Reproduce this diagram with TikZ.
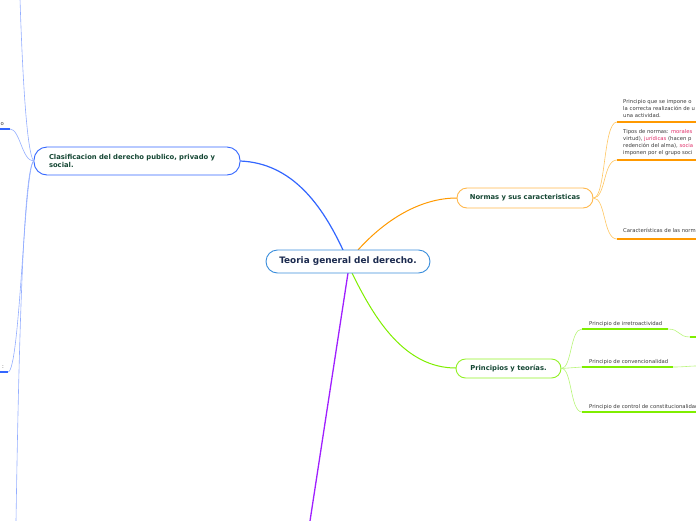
\documentclass[tikz,border=0pt]{standalone}
\usepackage{fontspec}
\setmainfont{DejaVu Sans}
\definecolor{cblue}{HTML}{3366FF}
\definecolor{lblue}{HTML}{94AEFF}
\definecolor{corange}{HTML}{FF9900}
\definecolor{lorange}{HTML}{FFC661}
\definecolor{cgreen}{HTML}{7FEE00}
\definecolor{lgreen}{HTML}{B8F57A}
\definecolor{cpurple}{HTML}{9F1FFF}
\definecolor{cframe}{HTML}{3C8FDC}
\definecolor{navy}{HTML}{1C2B4F}
\definecolor{dgreen}{HTML}{154734}
\definecolor{tgray}{HTML}{3A3A3A}
\definecolor{tred}{HTML}{E0306A}
\tikzset{
  topic/.style={draw, line width=0.9pt, fill=white, font=\bfseries\fontsize{6.8}{7.6}\selectfont, text=dgreen, inner sep=0pt},
  small/.style={font=\fontsize{5.3}{7}\selectfont, text=tgray, inner sep=0pt, align=left},
  thin/.style={line width=0.6pt},
  uline/.style={line width=1.6pt},
}
\begin{document}
\begin{tikzpicture}[x=1pt,y=-1pt]
\useasboundingbox (0,0) rectangle (696,520);
\clip (0,0) rectangle (696,520);

% ---- connector coordinates
\coordinate (cN1) at (343,250);
\coordinate (cN2) at (358,250);
\coordinate (cS1) at (352,273);
\coordinate (cS2) at (348,273);
\coordinate (pEnd) at (310,521);

% main connectors
\draw[cblue, line width=1.2pt] (cN1) .. controls (322,205) and (292,163) .. (240,161);
\draw[corange, line width=1pt] (cN2) .. controls (385,220) and (420,198) .. (457,198);
\draw[cgreen, line width=1pt] (cS1) .. controls (375,320) and (405,368) .. (456,368);
\draw[cpurple, line width=1.3pt] (cS2) -- (pEnd);

% ---- nodes
\node[draw=cframe, line width=0.9pt, fill=white, rounded corners=11.5pt, minimum width=164pt, minimum height=23pt,
      font=\bfseries\fontsize{8.9}{10}\selectfont, text=navy] (center) at (348,261.5) {Teoria general del derecho.};

\node[topic, draw=cblue, rounded corners=13pt, minimum width=206pt, minimum height=28pt,
      text width=176pt, align=left, inner xsep=15pt] (clas) at (137,161)
      {Clasificacion del derecho publico, privado y\\social.};

\node[topic, draw=corange!70, rounded corners=10pt, minimum width=136pt, minimum height=20pt] (normas) at (525,198)
      {Normas y sus caracteristicas};

\node[topic, draw=cgreen!85, rounded corners=9.5pt, minimum width=105pt, minimum height=19pt] (princ) at (508.5,368.5)
      {Principios y teorías.};

% ---- Normas children
\coordinate (n1) at (617,122);
\coordinate (n2) at (617,160);
\coordinate (n3) at (617,239);
\draw[lorange, thin] (normas.east) .. controls (606,198) and (603,122) .. (n1);
\draw[lorange, thin] (normas.east) .. controls (606,198) and (603,160) .. (n2);
\draw[lorange, thin] (normas.east) .. controls (606,198) and (603,239) .. (n3);
\draw[corange, uline] (n1) -- (697,122);
\draw[corange, uline] (n2) -- (697,160);
\draw[corange, uline] (n3) -- (697,239);

\node[small, anchor=north west] (t1) at (623,99)
  {Principio que se impone o\\la correcta realización de u\\una actividad.};
\node[small, anchor=north west] (t2) at (623,129)
  {Tipos de normas: \textcolor{tred}{morales}\\virtud), \textcolor{tred}{jurídicas} (hacen p\\redención del alma), \textcolor{tred}{socia}\\imponen por el grupo soci};
\node[small, anchor=north west] (t3) at (623,228) {Características de las norm};

% ---- Principios children
\coordinate (p1) at (582,329);
\coordinate (p2) at (582,367);
\coordinate (p3) at (582,412);
\draw[lgreen, thin] (princ.east) .. controls (572,368) and (570,329) .. (p1);
\draw[lgreen, thin] (princ.east) -- (p2);
\draw[lgreen, thin] (princ.east) .. controls (572,368) and (570,412) .. (p3);
\coordinate (p1e) at (668,329);
\coordinate (p2e) at (673,367);
\draw[cgreen, uline] (p1) -- (p1e);
\draw[cgreen, uline] (p2) -- (p2e);
\draw[cgreen, uline] (p3) -- (697,412);
\coordinate (q1) at (690,337);
\coordinate (q2) at (697,366);
\draw[lgreen, thin] (p1e) .. controls (680,329) and (678,337) .. (q1);
\draw[cgreen, uline] (q1) -- (697,337);
\draw[lgreen, thin] (p2e) .. controls (685,367) and (688,366) .. (q2);

\node[small, anchor=base west] (s1) at (589,325.5) {Principio de irretroactividad};
\node[small, anchor=base west] (s2) at (589,363.5) {Principio de convencionalidad};
\node[small, anchor=base west] (s3) at (589,408) {Principio de control de constitucionalidad};

% ---- Left side (Clasificacion children)
\coordinate (l0) at (20,-1);
\coordinate (l1) at (10,129);
\coordinate (l2) at (8,372);
\coordinate (l3) at (16,521);
\draw[lblue, thin] (clas.west) .. controls (26,150) and (22,60) .. (l0);
\draw[lblue, thin] (clas.west) .. controls (22,161) and (20,129) .. (l1);
\draw[lblue, thin] (clas.west) .. controls (24,172) and (20,372) .. (l2);
\draw[lblue, thin] (clas.west) .. controls (22,172) and (18,400) .. (l3);
\draw[cblue, uline] (-1,129) -- (l1);
\draw[cblue, uline] (-1,372) -- (l2);
\node[small, anchor=base east] (o1) at (4,125.5) {o};
\node[small, anchor=base east] (o2) at (4,368.5) {:};
\end{tikzpicture}
\end{document}
